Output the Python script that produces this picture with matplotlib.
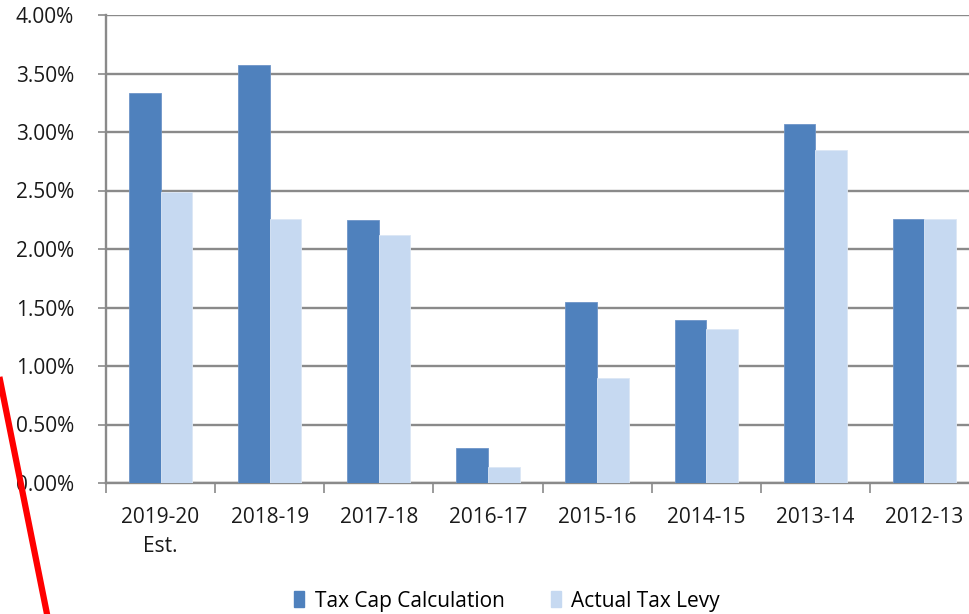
import matplotlib
matplotlib.use("Agg")
import matplotlib.pyplot as plt
from matplotlib.lines import Line2D
from matplotlib.patches import Patch
import numpy as np

categories = ["2019-20\nEst.", "2018-19", "2017-18", "2016-17", "2015-16", "2014-15", "2013-14", "2012-13"]
tax_cap = [3.33, 3.57, 2.25, 0.30, 1.55, 1.39, 3.07, 2.26]
actual_levy = [2.49, 2.26, 2.12, 0.14, 0.90, 1.32, 2.85, 2.26]
yticks = [0, 0.5, 1.0, 1.5, 2.0, 2.5, 3.0, 3.5, 4.0]

DARK = "#4F81BD"
LIGHT = "#C6D9F1"
GRID = "#8A8A8A"
FS = 15

plt.rcParams['font.family'] = ['Open Sans', 'DejaVu Sans']

fig = plt.figure(figsize=(9.69, 6.14), dpi=100)
ax = fig.add_axes([106/969, 1-483/614, (979-106)/969, (483-15)/614])

x = np.arange(len(categories))
w = 0.29
ax.bar(x - w/2, tax_cap, width=w, color=DARK, edgecolor="#6E95C8", linewidth=0.6, zorder=3)
ax.bar(x + w/2, actual_levy, width=w, color=LIGHT, edgecolor="#DCE7F5", linewidth=0.6, zorder=3)

ax.set_xlim(-0.5, len(categories) - 0.5)
ax.set_ylim(0, 4.0)
ax.set_yticks(yticks)
ax.set_yticklabels([f"{v:.2f}%" for v in yticks])
ax.yaxis.grid(True, color=GRID, linewidth=1.7, zorder=0)
ax.set_axisbelow(True)

ax.set_xticks(x)
ax.set_xticklabels(categories, linespacing=1.55, va="top")
ax.set_xticks(np.arange(len(categories) + 1) - 0.5, minor=True)
ax.tick_params(axis="x", which="major", length=0, pad=17, labelsize=FS, colors="#1a1a1a")
ax.tick_params(axis="x", which="minor", length=7, width=1.2, color=GRID)
ax.tick_params(axis="y", length=6, width=1.2, color=GRID, labelsize=FS, labelcolor="#1a1a1a", pad=17)

for s in ["top", "right"]:
    ax.spines[s].set_visible(False)
ax.spines["left"].set_color(GRID)
ax.spines["left"].set_linewidth(1.7)
ax.spines["bottom"].set_color(GRID)
ax.spines["bottom"].set_linewidth(1.7)

handles = [Patch(facecolor=DARK, edgecolor=DARK), Patch(facecolor=LIGHT, edgecolor=LIGHT)]
fig.legend(handles, ["Tax Cap Calculation", "Actual Tax Levy"], loc="center",
           bbox_to_anchor=(507/969, 1-601/614), ncol=2, frameon=False, fontsize=FS,
           handlelength=0.5, handleheight=0.8, handletextpad=0.5, columnspacing=2.2)

fig.add_artist(Line2D([0/969, 47/969], [1-380/614, 0], color="#FF0000", linewidth=4.5,
                      transform=fig.transFigure))

fig.savefig("out.png", dpi=100)
